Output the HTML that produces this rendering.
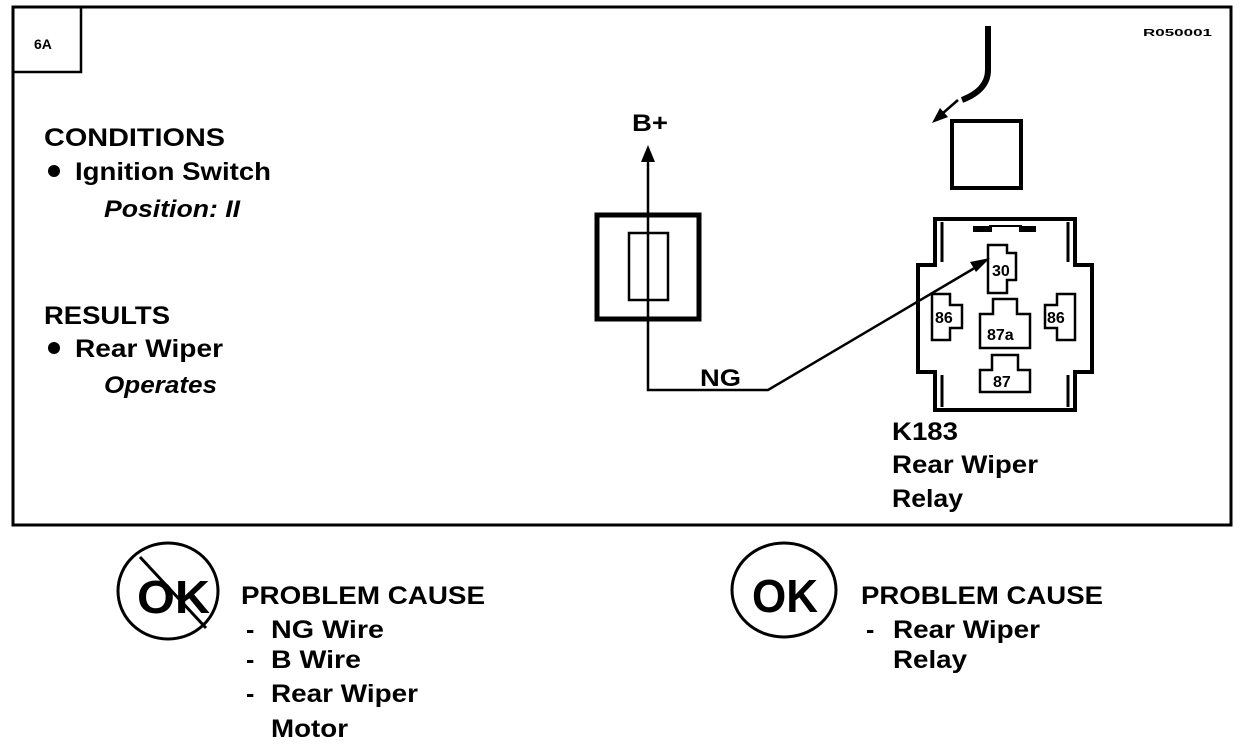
<!DOCTYPE html>
<html><head><style>
html,body{margin:0;padding:0;background:#fff;}
svg{display:block;}
text{font-family:"Liberation Sans",sans-serif;font-weight:bold;fill:#000;}
</style></head><body>
<svg width="1248" height="744" viewBox="0 0 1248 744" xmlns="http://www.w3.org/2000/svg">
<g fill="none" stroke="#000">
<rect x="13" y="7" width="1218" height="518" stroke-width="3"/>
<path d="M13 72 H81 V7" stroke-width="2.5"/>
<!-- left component -->
<rect x="597" y="215" width="102" height="104" stroke-width="5"/>
<rect x="629" y="233" width="39" height="67" stroke-width="2.5"/>
<path d="M648 160 V390 H768 L978 266" stroke-width="2.5"/>
<!-- top square -->
<rect x="952" y="121" width="69" height="67" stroke-width="4"/>
<path d="M988 26 V70 Q988 90 962 100" stroke-width="6"/>
<path d="M958 100 L935 120" stroke-width="2.5"/>
<!-- relay -->
<path d="M935 265 V219 H1075 V265 H1092 V372 H1075 V410 H935 V372 H918 V265 Z" stroke-width="4"/>
<path d="M942 222 V262 M1068 222 V262 M942 375 V407 M1068 375 V407" stroke-width="3"/>
<path d="M973 229 H992 M1019 229 H1036" stroke-width="6"/>
<path d="M990 231 V226 H1021 V231" stroke-width="2"/>
<!-- pin 30 -->
<path d="M988 245 H1007 V253 H1016 V280 H1007 V293 H988 Z" stroke-width="2.5"/>
<!-- pin 86 left -->
<path d="M932 294 H950 V305 H962 V328 H950 V340 H932 Z" stroke-width="2.5"/>
<!-- pin 86 right -->
<path d="M1075 294 H1057 V305 H1045 V328 H1057 V340 H1075 Z" stroke-width="2.5"/>
<!-- 87a -->
<path d="M993 299 H1017 V314 H1030 V348 H980 V314 H993 Z" stroke-width="2.5"/>
<!-- 87 -->
<path d="M992 355 H1018 V370 H1030 V392 H980 V370 H992 Z" stroke-width="2.5"/>
<!-- circles -->
<ellipse cx="168" cy="591" rx="50" ry="48" stroke-width="3"/>
<line x1="140" y1="557" x2="206" y2="628" stroke-width="3"/>
<ellipse cx="784" cy="590" rx="52" ry="47" stroke-width="3"/>
</g>
<!-- arrowheads -->
<polygon points="648,145 641,162 655,162" fill="#000"/>
<polygon points="990,258 970,262 976,272" fill="#000"/>
<polygon points="932,123 940,108 948,117" fill="#000"/>
<circle cx="54" cy="171" r="6" fill="#000"/>
<circle cx="54" cy="348" r="6" fill="#000"/>

<text x="34" y="49" font-size="14">6A</text>
<text x="1143" y="36" font-size="10" textLength="69" lengthAdjust="spacingAndGlyphs">R050001</text>
<text x="44" y="146" font-size="25" textLength="181" lengthAdjust="spacingAndGlyphs">CONDITIONS</text>
<text x="75" y="180" font-size="25" textLength="196" lengthAdjust="spacingAndGlyphs">Ignition Switch</text>
<text x="104" y="217" font-size="24" font-style="italic" font-weight="normal" textLength="136" lengthAdjust="spacingAndGlyphs">Position: II</text>
<text x="44" y="324" font-size="25" textLength="126" lengthAdjust="spacingAndGlyphs">RESULTS</text>
<text x="75" y="357" font-size="25" textLength="148" lengthAdjust="spacingAndGlyphs">Rear Wiper</text>
<text x="104" y="393" font-size="24" font-style="italic" font-weight="normal" textLength="113" lengthAdjust="spacingAndGlyphs">Operates</text>
<text x="632" y="131" font-size="24" textLength="36" lengthAdjust="spacingAndGlyphs">B+</text>
<text x="700" y="386" font-size="24" textLength="41" lengthAdjust="spacingAndGlyphs">NG</text>
<text x="892" y="440" font-size="25" textLength="66" lengthAdjust="spacingAndGlyphs">K183</text>
<text x="892" y="473" font-size="25" textLength="146" lengthAdjust="spacingAndGlyphs">Rear Wiper</text>
<text x="892" y="507" font-size="25" textLength="71" lengthAdjust="spacingAndGlyphs">Relay</text>
<g font-size="16">
<text x="992" y="276">30</text>
<text x="935" y="323">86</text>
<text x="1047" y="323">86</text>
<text x="987" y="340">87a</text>
<text x="993" y="387">87</text>
</g>
<text x="137" y="613" font-size="46" textLength="73" lengthAdjust="spacingAndGlyphs">OK</text>
<text x="752" y="612" font-size="46" textLength="66" lengthAdjust="spacingAndGlyphs">OK</text>
<text x="241" y="604" font-size="25" textLength="244" lengthAdjust="spacingAndGlyphs">PROBLEM CAUSE</text>
<text x="246" y="638" font-size="25">-</text>
<text x="271" y="638" font-size="25" textLength="113" lengthAdjust="spacingAndGlyphs">NG Wire</text>
<text x="246" y="668" font-size="25">-</text>
<text x="271" y="668" font-size="25" textLength="90" lengthAdjust="spacingAndGlyphs">B Wire</text>
<text x="246" y="702" font-size="25">-</text>
<text x="271" y="702" font-size="25" textLength="147" lengthAdjust="spacingAndGlyphs">Rear Wiper</text>
<text x="271" y="737" font-size="25" textLength="77" lengthAdjust="spacingAndGlyphs">Motor</text>
<text x="861" y="604" font-size="25" textLength="242" lengthAdjust="spacingAndGlyphs">PROBLEM CAUSE</text>
<text x="866" y="638" font-size="25">-</text>
<text x="893" y="638" font-size="25" textLength="147" lengthAdjust="spacingAndGlyphs">Rear Wiper</text>
<text x="893" y="668" font-size="25" textLength="74" lengthAdjust="spacingAndGlyphs">Relay</text>
</svg>
</body></html>
